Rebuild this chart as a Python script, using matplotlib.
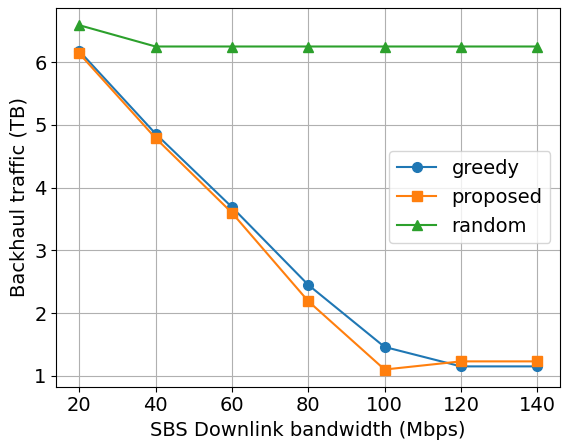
import matplotlib
matplotlib.use('Agg')
import matplotlib.pyplot as plt

# SBS downlink bandwidth (Mbps)
bandwidth = [20, 40, 60, 80, 100, 120, 140]

# backhaul traffic (TB)
greedy = [6.18, 4.86, 3.69, 2.45, 1.46, 1.15, 1.15]
proposed = [6.14, 4.79, 3.60, 2.19, 1.10, 1.23, 1.23]
random = [6.59, 6.25, 6.25, 6.25, 6.25, 6.25, 6.25]

plt.rcParams['font.size'] = 14

fig, ax = plt.subplots(figsize=(5.63, 4.42), dpi=100)
ax.plot(bandwidth, greedy, marker='o', markersize=7, label='greedy')
ax.plot(bandwidth, proposed, marker='s', markersize=7, label='proposed')
ax.plot(bandwidth, random, marker='^', markersize=7, label='random')

ax.set_xticks(bandwidth)
ax.set_xlabel('SBS Downlink bandwidth (Mbps)')
ax.set_ylabel('Backhaul traffic (TB)')
ax.grid(True)
ax.legend(loc='center right')

fig.subplots_adjust(left=0.1, right=0.995, top=0.982, bottom=0.125)
fig.savefig('out.png')
